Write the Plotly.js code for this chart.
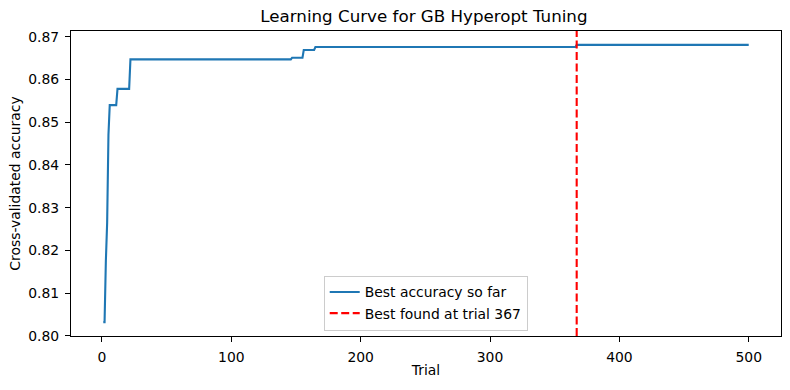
<!DOCTYPE html>
<html>
<head>
<meta charset="utf-8">
<script src="https://cdn.plot.ly/plotly-3.0.1.min.js"></script>
<style>
html,body{margin:0;padding:0;background:#fff;}
#chart{width:790px;height:390px;}
</style>
</head>
<body>
<div id="chart"></div>
<script>
// Best-so-far accuracy (breakpoints of the running maximum)
const trials = [1, 2, 3, 4, 5, 6, 11, 12, 21, 22, 146, 147, 155, 156, 164, 165, 366, 367, 500];
const bestAcc = [0.8032, 0.8032, 0.8175, 0.8265, 0.8470, 0.8540, 0.8540, 0.8578, 0.8578, 0.8647,
                 0.8647, 0.8651, 0.8651, 0.8669, 0.8669, 0.8676, 0.8676, 0.8681, 0.8681];
const bestTrial = 367;
const xTicks = [0, 100, 200, 300, 400, 500];
const yTicks = [0.80, 0.81, 0.82, 0.83, 0.84, 0.85, 0.86, 0.87];
const yTickLabels = ["0.80", "0.81", "0.82", "0.83", "0.84", "0.85", "0.86", "0.87"];

// matplotlib-like 5% margins
const xMin = Math.min(...trials), xMax = Math.max(...trials);
const yMin = Math.min(...bestAcc), yMax = Math.max(...bestAcc);
const xPad = (xMax - xMin) * 0.05, yPad = (yMax - yMin) * 0.05;
const xRange = [xMin - xPad, xMax + xPad];
const yRange = [yMin - yPad, yMax + yPad];

const font = "DejaVu Sans, Liberation Sans, sans-serif";

const traces = [
  {
    x: trials, y: bestAcc, type: "scatter", mode: "lines",
    name: "Best accuracy so far",
    line: {color: "#1f77b4", width: 2.1}
  },
  {
    x: [bestTrial, bestTrial], y: yRange, type: "scatter", mode: "lines",
    name: "Best found at trial " + bestTrial,
    line: {color: "#ff0000", width: 2.1, dash: "8px,3.5px"}
  }
];

const axisCommon = {
  showline: true, mirror: true, linecolor: "#000", linewidth: 1,
  ticks: "outside", ticklen: 5, tickwidth: 1, tickcolor: "#000",
  showgrid: false, zeroline: false,
  tickfont: {family: font, size: 13.9, color: "#000"}
};

const layout = {
  width: 790, height: 390,
  margin: {l: 70.5, r: 9, t: 30.5, b: 54},
  paper_bgcolor: "#fff", plot_bgcolor: "#fff",
  font: {family: font, color: "#000"},
  title: {
    text: "Learning Curve for GB Hyperopt Tuning",
    font: {family: font, size: 16.7, color: "#000"},
    x: 0.5366, xanchor: "center", y: 1 - 16.5 / 390, yanchor: "middle", yref: "container"
  },
  xaxis: Object.assign({}, axisCommon, {
    range: xRange, tickvals: xTicks, ticktext: xTicks.map(String),
    ticklabelstandoff: 3,
    title: {text: "Trial", font: {family: font, size: 13.9, color: "#000"}, standoff: 1}
  }),
  yaxis: Object.assign({}, axisCommon, {
    range: yRange, tickvals: yTicks, ticktext: yTickLabels,
    ticklabelstandoff: 3,
    title: {text: "Cross-validated accuracy", font: {family: font, size: 13.9, color: "#000"}, standoff: 4}
  }),
  showlegend: true,
  legend: {
    x: 0.4996, xanchor: "center", y: 0.018, yanchor: "bottom",
    bgcolor: "rgba(255,255,255,0.8)", bordercolor: "#cccccc", borderwidth: 1,
    font: {family: font, size: 13.9, color: "#000"},
    tracegroupgap: 0
  }
};

Plotly.newPlot("chart", traces, layout, {staticPlot: true, displayModeBar: false});
</script>
</body>
</html>
